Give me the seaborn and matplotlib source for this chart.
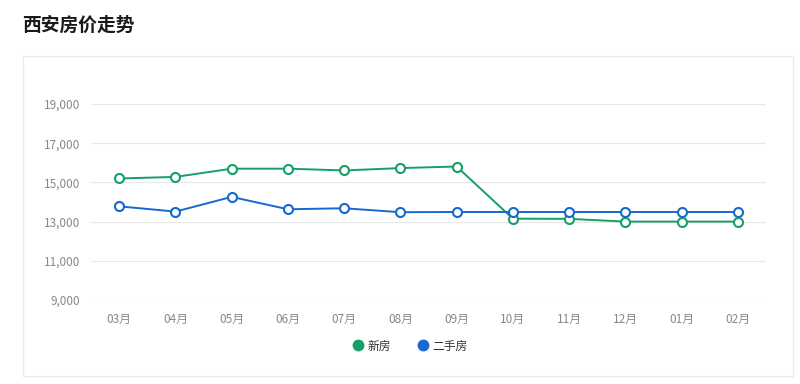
import pandas as pd
import seaborn as sns
import matplotlib.pyplot as plt
from matplotlib.lines import Line2D
from matplotlib.patches import Rectangle

months = ["03月", "04月", "05月", "06月", "07月", "08月", "09月", "10月", "11月", "12月", "01月", "02月"]
new_house = [15200, 15280, 15700, 15700, 15610, 15730, 15810, 13150, 13140, 13000, 13000, 13000]
second_hand = [13780, 13510, 14260, 13630, 13680, 13480, 13490, 13490, 13490, 13490, 13490, 13490]
y_ticks = [9000, 11000, 13000, 15000, 17000, 19000]

GREEN = "#16a068"
BLUE = "#1768cf"
W, H = 800, 384


def px_box(left, top, right, bottom):
    return [left / W, 1 - bottom / H, (right - left) / W, (bottom - top) / H]


def main():
    sns.set_theme(style="white")
    plt.rcParams["font.family"] = ["Noto Sans CJK SC", "DejaVu Sans"]

    df = pd.DataFrame({"x": range(len(months)), "新房": new_house, "二手房": second_hand})

    fig = plt.figure(figsize=(W / 100, H / 100), dpi=100)
    fig.patch.set_facecolor("white")

    # card border
    fig.patches.append(Rectangle((22.5 / W, 1 - 375.5 / H), 770 / W, 319.5 / H,
                                 transform=fig.transFigure, fill=False,
                                 edgecolor="#ebebeb", linewidth=1))
    fig.text(22 / W, 1 - 25 / H, "西安房价走势", fontsize=13.5, fontweight="bold",
             color="#1a1a1a", va="center", ha="left")

    ax = fig.add_axes(px_box(91, 104, 766, 300))
    for col, color in [("新房", GREEN), ("二手房", BLUE)]:
        sns.lineplot(data=df, x="x", y=col, ax=ax, color=color, linewidth=1.4,
                     marker="o", markersize=6.5, markerfacecolor="white",
                     markeredgecolor=color, markeredgewidth=1.5, clip_on=False, zorder=3)

    ax.set_xlim(-0.5, len(months) - 0.5)
    ax.set_ylim(9000, 19000)
    ax.set_yticks(y_ticks)
    ax.set_yticklabels([f"{v:,}" for v in y_ticks])
    ax.set_xticks(range(len(months)))
    ax.set_xticklabels(months)
    ax.tick_params(axis="both", length=0, labelsize=8.5, colors="#888888")
    ax.tick_params(axis="y", pad=8)
    ax.tick_params(axis="x", pad=9)
    ax.set_xlabel("")
    ax.set_ylabel("")
    ax.grid(axis="y", color="#e8e8e8", linewidth=0.8)
    ax.set_axisbelow(True)
    for s in ax.spines.values():
        s.set_visible(False)

    handles = [Line2D([], [], linestyle="none", marker="o", markersize=7.5, color=GREEN, label="新房"),
               Line2D([], [], linestyle="none", marker="o", markersize=7.5, color=BLUE, label="二手房")]
    fig.legend(handles=handles, loc="center", bbox_to_anchor=(410 / W, 1 - 346 / H), ncol=2,
               frameon=False, fontsize=8.5, labelcolor="#333333", handletextpad=0.3,
               columnspacing=2.2, handlelength=1.0)

    fig.savefig("out.png", dpi=100, facecolor="white")


if __name__ == "__main__":
    main()
